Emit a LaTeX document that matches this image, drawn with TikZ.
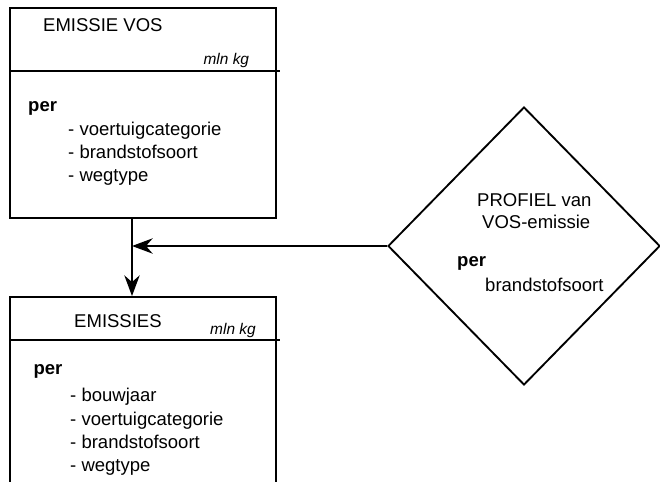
\documentclass[tikz,border=0pt]{standalone}
\usepackage{fontspec}
\setmainfont{Liberation Sans}
\usetikzlibrary{shapes.geometric, arrows.meta, positioning}
\tikzset{
	% entity box
	entbox/.style={
		draw,
		rectangle,
		line width=1.6pt,
		minimum width=7.98cm,
		inner sep=0pt
	}, %
	% plain text line
	txt/.style={
		anchor=base west,
		inner sep=0pt,
		font=\fontsize{15.8}{19}\selectfont
	}, %
	% unit label
	unit/.style={
		anchor=base west,
		inner sep=0pt,
		font=\fontsize{13.2}{15}\selectfont\itshape
	}, %
	pijl/.style={
		line width=1.6pt,
		-{Stealth[length=0.62cm, width=0.46cm, inset=0.2cm]}
	} %
}

\begin{document}
\begin{tikzpicture}
			\useasboundingbox (0,0) rectangle (19.8,14.43);
			\clip (0,0) rectangle (19.8,14.43);
			
			%% bovenste blok
			\node [entbox, minimum height=6.3cm] (vos) at (4.29, 11.04) {};
			\draw [line width=1.6pt] (0.3, 12.3) -- (8.4, 12.3);
			\node [txt] (vostitel) at (1.29, 13.47) {EMISSIE VOS};
			\node [unit] (vosunit) at (6.1, 12.48) {mln kg};
			\node [txt] (vosper) at (0.84, 11.07) {\textbf{per}};
			\foreach \t [count=\i] in {voertuigcategorie, brandstofsoort, wegtype} {
				\node [txt] (vositem\i) at (2.04, 10.35-0.69*\i+0.69) {- \t};
			}
			
			%% onderste blok
			\node [entbox, minimum height=6.02cm] (emis) at (4.29, 2.51) {};
			\draw [line width=1.6pt] (0.3, 4.23) -- (8.4, 4.23);
			\node [txt] (emistitel) at (2.22, 4.59) {EMISSIES};
			\node [unit] (emisunit) at (6.3, 4.38) {mln kg};
			\node [txt] (emisper) at (1.0, 3.18) {\textbf{per}};
			\foreach \t [count=\i] in {bouwjaar, voertuigcategorie, brandstofsoort, wegtype} {
				\node [txt] (emisitem\i) at (2.1, 2.37-0.69*\i+0.69) {- \t};
			}
			
			%% profiel
			\node [draw, diamond, line width=1.6pt, inner sep=0pt,
				minimum width=8.16cm, minimum height=8.34cm] (profiel) at (15.72, 7.05) {};
			\node [txt] (proftitel) at (14.31, 8.22) {PROFIEL van};
			\node [txt] (profsub) at (14.46, 7.56) {VOS-emissie};
			\node [txt] (profper) at (13.71, 6.42) {\textbf{per}};
			\node [txt] (profitem) at (14.55, 5.67) {brandstofsoort};
			
			%% pijlen
			\draw [pijl] ([xshift=-0.33cm]vos.south) -- ([xshift=-0.33cm]emis.north);
			\coordinate (knik) at ([xshift=-0.33cm]vos.south |- profiel.west);
			\draw [pijl] (profiel.west) -- (knik);
\end{tikzpicture}
\end{document}
